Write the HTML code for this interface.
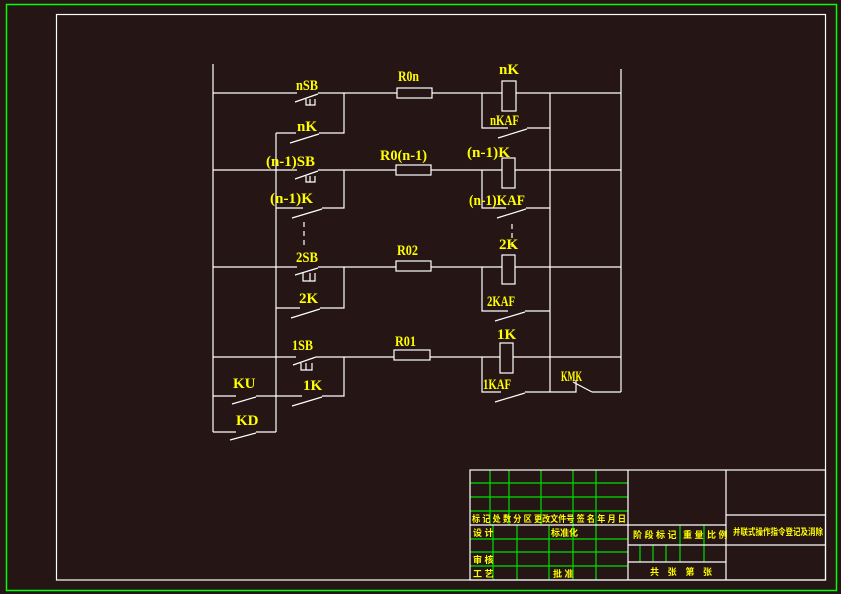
<!DOCTYPE html>
<html><head><meta charset="utf-8"><style>
html,body{margin:0;padding:0;background:#251515;}
svg{display:block}
.w{stroke:#fff;stroke-width:1.2;fill:none}
.g{stroke:#00e000;stroke-width:1.2;fill:none}
.t{fill:#ffff00;font-family:"Liberation Serif",serif;font-weight:bold;font-size:15px}
.c{fill:#ffff00;font-family:"Liberation Sans","Noto Sans CJK SC",sans-serif;font-weight:bold;font-size:9px}
</style></head><body>
<svg width="841" height="594" viewBox="0 0 841 594">
<rect x="0" y="0" width="841" height="594" fill="#251515"/>
<rect x="6.5" y="4.5" width="830" height="586" fill="none" stroke="#00ff00" stroke-width="1.5"/>
<rect x="56.5" y="14.5" width="769" height="565.5" class="w"/>
<g class="w">
<line x1="213" y1="64" x2="213" y2="432"/>
<line x1="621" y1="69" x2="621" y2="392"/>
<line x1="276" y1="133" x2="276" y2="432"/>
<line x1="550" y1="93" x2="550" y2="392"/>
<path d="M213 93H297 M295 102L318 94 M318 93H397 M432 93H502 M516 93H621"/>
<path d="M213 170H297 M295 179L318 171 M318 170H396 M431 170H502 M515 170H621"/>
<path d="M213 267H297 M295 275L318 268 M318 267H396 M431 267H502 M515 267H621"/>
<path d="M213 357H296 M293 365L316 357 M316 357H394 M430 357H500 M513 357H621"/>
<path d="M306 99V105H315V99 M310 99V105"/>
<path d="M306 176V182H315V176 M310 176V182"/>
<path d="M303 273V281H315V273 M310 273V281"/>
<path d="M301 363V370H312V363 M306 363V370"/>
<rect x="397" y="88" width="35" height="10"/>
<rect x="396" y="165" width="35" height="10"/>
<rect x="396" y="261" width="35" height="10"/>
<rect x="394" y="350" width="36" height="10"/>
<rect x="502" y="81" width="14" height="30"/>
<rect x="502" y="158" width="13" height="30"/>
<rect x="502" y="255" width="13" height="29"/>
<rect x="500" y="343" width="13" height="30"/>
<path d="M344 93V133H319 M290 143L319 134 M276 133H296"/>
<path d="M344 170V208H322 M292 218L322 209 M276 208H303"/>
<path d="M344 267V308H320 M291 318L320 309 M276 308H300"/>
<path d="M344 357V396H322 M292 406L322 397 M276 396H302"/>
<path d="M482 93V128H508 M498 138L527 129 M527 128H550"/>
<path d="M482 170V208H506 M497 218L526 209 M526 208H550"/>
<path d="M482 267V311H508 M495 321L525 312 M525 311H550"/>
<path d="M482 357V392H501 M495 402L525 393 M525 392H550"/>
<path d="M550 392H576V380 M573 382L592 392 M592 392H621"/>
<path d="M213 396H236 M232 404L256 397 M256 396H276"/>
<path d="M213 432H236 M230 440L256 433 M256 432H276"/>
<path d="M304 222V245" stroke-dasharray="5,4"/>
<path d="M512 224V250" stroke-dasharray="5,4"/>
</g>
<g class="t">
<text x="296" y="90" textLength="22" lengthAdjust="spacingAndGlyphs">nSB</text>
<text x="297" y="131">nK</text>
<text x="398" y="81" textLength="21" lengthAdjust="spacingAndGlyphs">R0n</text>
<text x="499" y="74">nK</text>
<text x="490" y="125" textLength="29" lengthAdjust="spacingAndGlyphs">nKAF</text>
<text x="266" y="166" textLength="49" lengthAdjust="spacingAndGlyphs">(n-1)SB</text>
<text x="380" y="160" textLength="47" lengthAdjust="spacingAndGlyphs">R0(n-1)</text>
<text x="467" y="157" textLength="43" lengthAdjust="spacingAndGlyphs">(n-1)K</text>
<text x="270" y="203" textLength="43" lengthAdjust="spacingAndGlyphs">(n-1)K</text>
<text x="469" y="205" textLength="56" lengthAdjust="spacingAndGlyphs">(n-1)KAF</text>
<text x="296" y="262" textLength="22" lengthAdjust="spacingAndGlyphs">2SB</text>
<text x="397" y="255" textLength="21" lengthAdjust="spacingAndGlyphs">R02</text>
<text x="499" y="249">2K</text>
<text x="299" y="303">2K</text>
<text x="487" y="306" textLength="28" lengthAdjust="spacingAndGlyphs">2KAF</text>
<text x="292" y="350" textLength="21" lengthAdjust="spacingAndGlyphs">1SB</text>
<text x="395" y="346" textLength="21" lengthAdjust="spacingAndGlyphs">R01</text>
<text x="497" y="339">1K</text>
<text x="303" y="390">1K</text>
<text x="483" y="389" textLength="28" lengthAdjust="spacingAndGlyphs">1KAF</text>
<text x="561" y="381" textLength="21" lengthAdjust="spacingAndGlyphs">KMK</text>
<text x="233" y="388">KU</text>
<text x="236" y="425">KD</text>
</g>
<g class="g">
<path d="M490 470V525 M509 470V525 M541 470V525 M573 470V525 M596 470V525"/>
<path d="M470 483H628 M470 497H628 M470 511H628"/>
<path d="M493 525V580 M517 525V580 M549 525V580 M573 525V580 M596 525V580"/>
<path d="M470 539H628 M470 552H628 M470 566H628"/>
<path d="M640 545V562 M653 545V562 M666 545V562 M680 525V562 M704 525V562"/>
</g>
<g class="w">
<rect x="470" y="470" width="355.5" height="110"/>
<path d="M628 470V580 M726 470V580 M470 525H726 M628 545H726 M628 562H726 M726 515H825 M726 545H825"/>
</g>
<g class="c">
<text x="472" y="522" textLength="154" lengthAdjust="spacingAndGlyphs">标 记 处 数 分  区 更改文件号 签 名 年 月 日</text>
<text x="473" y="536">设 计</text>
<text x="551" y="536">标准化</text>
<text x="473" y="563">审 核</text>
<text x="473" y="577">工 艺</text>
<text x="553" y="577">批 准</text>
<text x="633" y="538">阶 段 标 记</text>
<text x="683" y="538">重 量</text>
<text x="707" y="538">比 例</text>
<text x="650" y="575" textLength="62" lengthAdjust="spacing">共 张 第 张</text>
<text x="733" y="535" textLength="90" lengthAdjust="spacingAndGlyphs">并联式操作指令登记及消除</text>
</g>
</svg>
</body></html>
